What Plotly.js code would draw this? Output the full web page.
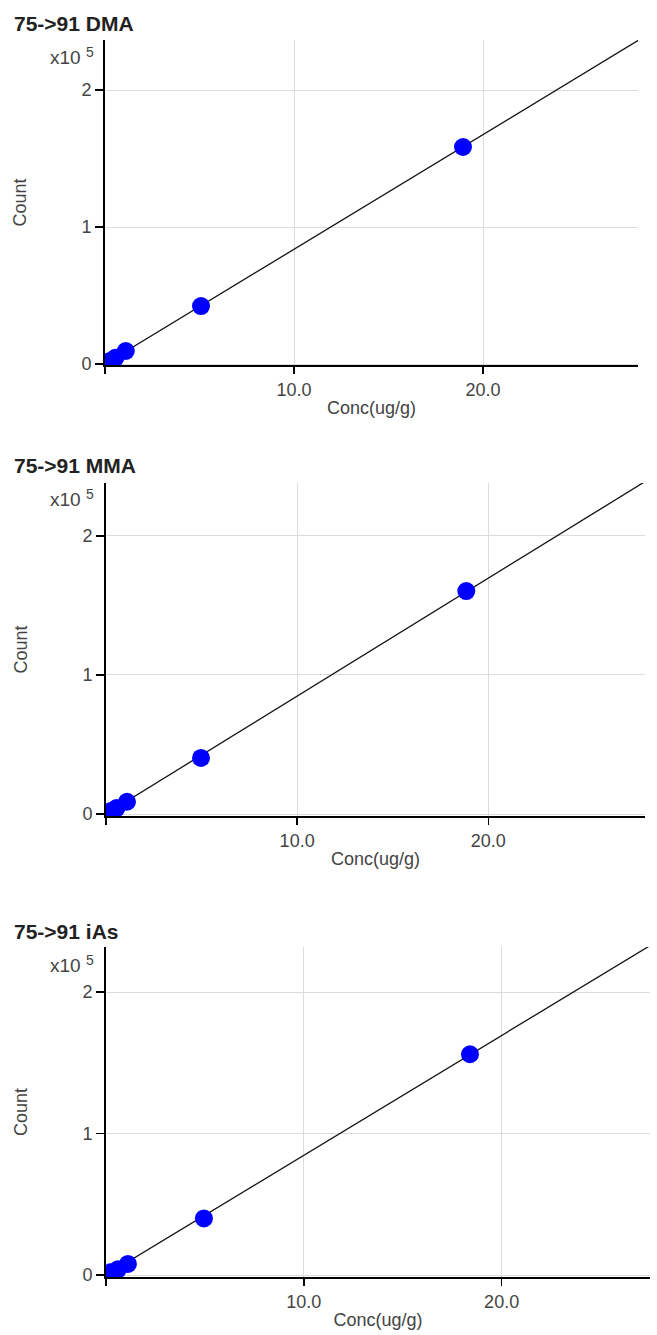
<!DOCTYPE html>
<html>
<head>
<meta charset="utf-8">
<script src="https://cdn.plot.ly/plotly-3.0.1.min.js"></script>
<style>html,body{margin:0;padding:0;background:#fff;}#chart{width:657px;height:1335px;}</style>
</head>
<body>
<div id="chart"></div>
<script>
// ---- data ----
const panelTitles = ["75->91 DMA", "75->91 MMA", "75->91 iAs"];
const xTitle = "Conc(ug/g)";
const yTitle = "Count";
const yExpBase = "x10";
const yExpPower = "5";

const dmaConc  = [0.25, 0.55, 1.1, 5.08, 18.94];
const dmaCount = [2000, 4500, 9500, 42300, 158400];
const mmaConc  = [0.25, 0.55, 1.1, 4.97, 18.85];
const mmaCount = [2000, 4300, 8800, 40300, 160400];
const iasConc  = [0.25, 0.6, 1.11, 4.95, 18.4];
const iasCount = [2000, 4000, 7800, 40000, 156000];

// calibration line endpoints
const dmaFitX = [0, 28.6], dmaFitY = [0, 239500];
const mmaFitX = [0, 28.6], mmaFitY = [0, 242500];
const iasFitX = [0, 28.0], iasFitY = [0, 237000];

const xTickVals = [10, 20];
const xTickText = ["10.0", "20.0"];
const xOriginTick = [0];
const yTickVals = [0, 100000, 200000];
const yTickText = ["0", "1", "2"];

// ---- layout helpers (pixel geometry of the page) ----
const W = 657, H = 1335;
const px = v => v / W;
const py = v => 1 - v / H;

const panels = [
  {x: dmaConc, y: dmaCount, fx: dmaFitX, fy: dmaFitY,
   left: 105, right: 638, top: 40, bottom: 365, xr: [0, 28.2], yr: [-730, 236500],
   titleY: 23, expY: 57},
  {x: mmaConc, y: mmaCount, fx: mmaFitX, fy: mmaFitY,
   left: 106, right: 645, top: 483, bottom: 816, xr: [0, 28.2], yr: [-1440, 238100],
   titleY: 466, expY: 499},
  {x: iasConc, y: iasCount, fx: iasFitX, fy: iasFitY,
   left: 106, right: 650, top: 947, bottom: 1277, xr: [0, 27.5], yr: [-1400, 231800],
   titleY: 932, expY: 965}
];

const FAM = "Liberation Sans, Arial, sans-serif";
const tickFont = {family: FAM, size: 18, color: "#444"};
const traces = [];
const layout = {
  width: W, height: H,
  margin: {l: 0, r: 0, t: 0, b: 0},
  paper_bgcolor: "#fff", plot_bgcolor: "#fff",
  showlegend: false,
  annotations: []
};

panels.forEach((p, i) => {
  const n = i === 0 ? "" : String(i + 1);
  const xa = "x" + n, ya = "y" + n;
  traces.push({
    x: p.fx, y: p.fy, xaxis: xa, yaxis: ya, mode: "lines", type: "scatter",
    line: {color: "#111", width: 1.3}, hoverinfo: "skip"
  });
  traces.push({
    x: p.x, y: p.y, xaxis: xa, yaxis: ya, mode: "markers", type: "scatter",
    marker: {color: "#0000ff", size: 18, line: {width: 0}}
  });
  layout["xaxis" + n] = {
    domain: [px(p.left), px(p.right)], anchor: ya, range: p.xr,
    tickmode: "array", tickvals: xTickVals, ticktext: xTickText,
    ticks: "outside", ticklen: 7, tickwidth: 1.5, tickcolor: "#000",
    minor: {tickmode: "array", tickvals: xOriginTick, ticks: "outside", ticklen: 7,
            tickwidth: 1.5, tickcolor: "#000", showgrid: false},
    showline: true, linecolor: "#000", linewidth: 2,
    showgrid: true, gridcolor: "#dcdcdc", gridwidth: 1, zeroline: false,
    tickfont: tickFont, fixedrange: true, automargin: false,
    title: {text: xTitle, font: tickFont, standoff: 3}
  };
  layout["yaxis" + n] = {
    domain: [py(p.bottom), py(p.top)], anchor: xa, range: p.yr,
    tickmode: "array", tickvals: yTickVals, ticktext: yTickText,
    ticks: "outside", ticklen: 8, tickwidth: 1.5, tickcolor: "#000",
    showline: true, linecolor: "#000", linewidth: 2,
    showgrid: true, gridcolor: "#dcdcdc", gridwidth: 1, zeroline: false,
    tickfont: tickFont, fixedrange: true, automargin: false,
    title: {text: yTitle, font: tickFont, standoff: 50}
  };
  layout.annotations.push({
    xref: "paper", yref: "paper", x: px(12), y: py(p.titleY),
    xanchor: "left", yanchor: "middle", showarrow: false,
    text: "<b>" + panelTitles[i] + "</b>",
    font: {family: FAM, size: 21, color: "#222"}
  });
  layout.annotations.push({
    xref: "paper", yref: "paper", x: px(83), y: py(p.expY),
    xanchor: "right", yanchor: "middle", showarrow: false,
    text: yExpBase, font: {family: FAM, size: 19, color: "#444"}
  });
  layout.annotations.push({
    xref: "paper", yref: "paper", x: px(84), y: py(p.expY - 5),
    xanchor: "left", yanchor: "middle", showarrow: false,
    text: yExpPower, font: {family: FAM, size: 14, color: "#444"}
  });
});

Plotly.newPlot("chart", traces, layout, {staticPlot: true, displayModeBar: false});
</script>
</body>
</html>
